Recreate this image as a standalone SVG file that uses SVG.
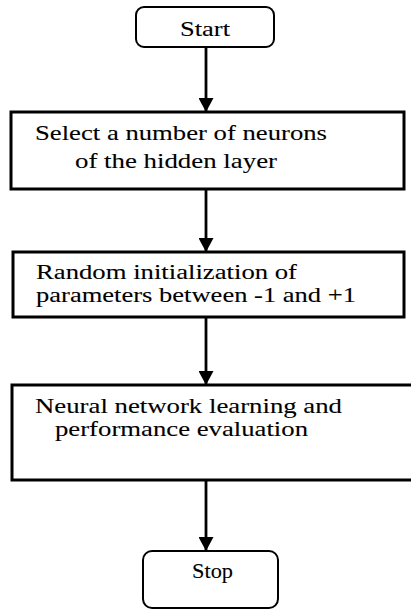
<svg xmlns="http://www.w3.org/2000/svg" width="411" height="610" viewBox="0 0 411 610">
  <style>
    .box { fill: #ffffff; stroke: #000000; stroke-width: 3; }
    .term { fill: #ffffff; stroke: #000000; stroke-width: 2; }
    .lbl { font-family: "Liberation Serif", "Times New Roman", serif; font-size: 22px; fill: #000000; stroke: #000000; stroke-width: 0.1; }
    .edge { stroke: #000000; stroke-width: 2.8; fill: none; marker-end: url(#arrow); }
  </style>
  <defs>
    <marker id="arrow" markerUnits="userSpaceOnUse" markerWidth="17" markerHeight="15" refX="14" refY="7.5" orient="auto">
      <path d="M0,0 L14,7.5 L0,15 Z" fill="#000000"/>
    </marker>
  </defs>
  <rect width="411" height="610" fill="#ffffff"/>

  <g id="connectors">
    <line class="edge" x1="206" y1="47" x2="206" y2="112"/>
    <line class="edge" x1="206" y1="189" x2="206" y2="252"/>
    <line class="edge" x1="206" y1="317" x2="206" y2="385"/>
    <line class="edge" x1="206" y1="480" x2="206" y2="551"/>
  </g>

  <g id="start">
    <rect class="term" x="136" y="7" width="138" height="40" rx="8"/>
    <text class="lbl" x="180" y="36" textLength="50" lengthAdjust="spacingAndGlyphs">Start</text>
  </g>

  <g id="select-neurons">
    <rect class="box" x="11" y="112" width="393" height="77"/>
    <text class="lbl" x="35" y="140" textLength="292" lengthAdjust="spacingAndGlyphs">Select a number of neurons</text>
    <text class="lbl" x="75" y="168" textLength="202" lengthAdjust="spacingAndGlyphs">of the hidden layer</text>
  </g>

  <g id="init-params">
    <rect class="box" x="13" y="252" width="391" height="65"/>
    <text class="lbl" x="36" y="279" textLength="261" lengthAdjust="spacingAndGlyphs">Random initialization of</text>
    <text class="lbl" x="36" y="302" textLength="320" lengthAdjust="spacingAndGlyphs">parameters between -1 and +1</text>
  </g>

  <g id="learning">
    <rect class="box" x="12" y="385" width="402" height="95"/>
    <text class="lbl" x="35" y="413" textLength="307" lengthAdjust="spacingAndGlyphs">Neural network learning and</text>
    <text class="lbl" x="55" y="436" textLength="253" lengthAdjust="spacingAndGlyphs">performance evaluation</text>
  </g>

  <g id="stop">
    <rect class="term" x="143" y="551" width="135" height="57" rx="9"/>
    <text class="lbl" x="192" y="578" textLength="41" lengthAdjust="spacingAndGlyphs">Stop</text>
  </g>
</svg>
